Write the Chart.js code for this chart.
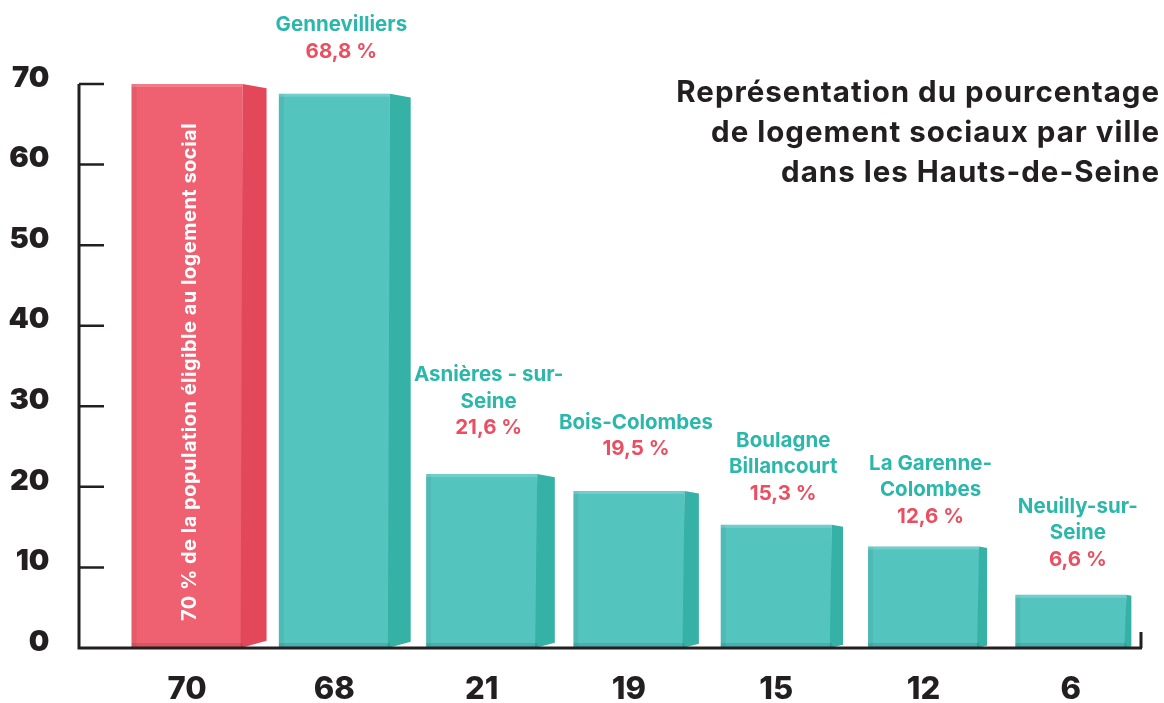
<!DOCTYPE html>
<html><head><meta charset="utf-8">
<script src="https://cdn.jsdelivr.net/npm/chart.js@4.4.1/dist/chart.umd.min.js"></script>
<style>html,body{margin:0;padding:0;background:#fff;} #wrap{position:relative;width:1164px;height:703px;}</style>
</head><body><div id="wrap"><canvas id="c" width="1164" height="703"></canvas></div>
<script>
// ---- data ----
const categories = ['70', '68', '21', '19', '15', '12', '6'];
const values = [70, 68.8, 21.6, 19.5, 15.3, 12.6, 6.6];
const cityNames = [[], ['Gennevilliers'], ['Asnières - sur-', 'Seine'], ['Bois-Colombes'], ['Boulagne', 'Billancourt'], ['La Garenne-', 'Colombes'], ['Neuilly-sur-', 'Seine']];
const percentLabels = ['', '68,8 %', '21,6 %', '19,5 %', '15,3 %', '12,6 %', '6,6 %'];
const yTicks = [0, 10, 20, 30, 40, 50, 60, 70];
const titleLines = ['Représentation du pourcentage', 'de logement sociaux par ville', 'dans les Hauts-de-Seine'];
const redBarText = '70 % de la population éligible au logement social';

// ---- styles ----
const RED = '#ef6170', RED_SIDE = '#e2485a';
const TEAL = '#54c4bf', TEAL_SIDE = '#35b1a6';
const TEXT_TEAL = '#2bb8ab', TEXT_RED = '#ea4f61', INK = '#231f20';
const labelGap = [0, 42, 46, 42, 31, 30, 35];
const FONT = 'Inter, "Open Sans", sans-serif';

const deco = {
  id: 'deco',
  afterDatasetsDraw(chart) {
    const ctx = chart.ctx;
    const meta = chart.getDatasetMeta(0);
    const ys = chart.scales.y;
    const y0 = ys.getPixelForValue(0), yTop = ys.getPixelForValue(70);
    const axisX = chart.chartArea.left - 34.4;
    ctx.save();
    // 3D side faces + bevels
    meta.data.forEach((el, i) => {
      const xr = el.x + el.width / 2, xl = el.x - el.width / 2;
      const s = Math.max(5, 24 - 3.2 * i);
      ctx.fillStyle = i === 0 ? RED_SIDE : TEAL_SIDE;
      ctx.beginPath();
      ctx.moveTo(xr, el.y);
      ctx.lineTo(xr + s, el.y + s * 0.18);
      ctx.lineTo(xr + s, el.base - s * 0.3);
      ctx.lineTo(xr - 2, el.base);
      ctx.closePath();
      ctx.fill();
      ctx.fillStyle = 'rgba(0,0,0,0.05)';
      ctx.fillRect(xl, el.y, 5, el.base - el.y);
      ctx.fillStyle = 'rgba(255,255,255,0.18)';
      ctx.fillRect(xl, el.y, el.width, 3);
      ctx.fillStyle = 'rgba(0,0,0,0.10)';
      ctx.fillRect(xl, el.base - 5, el.width, 5);
    });
    // axes
    ctx.strokeStyle = INK;
    ctx.lineWidth = 3;
    ctx.beginPath();
    ctx.moveTo(axisX, yTop); ctx.lineTo(axisX, y0 + 1.5);
    ctx.moveTo(axisX - 1.5, y0); ctx.lineTo(1142, y0);
    ctx.moveTo(1141, y0); ctx.lineTo(1141, y0 - 16);
    ctx.stroke();
    ctx.lineWidth = 2.5;
    ctx.beginPath();
    yTicks.forEach(v => { if (v > 0) { const p = ys.getPixelForValue(v); ctx.moveTo(axisX, p); ctx.lineTo(axisX + 25, p); } });
    ctx.stroke();
    // labels above bars
    ctx.textAlign = 'center';
    ctx.textBaseline = 'middle';
    ctx.font = '700 20.5px ' + FONT;
    meta.data.forEach((el, i) => {
      if (i === 0) return;
      const lines = cityNames[i].concat([percentLabels[i]]);
      const n = lines.length;
      const yLast = el.y - labelGap[i];
      lines.forEach((t, k) => {
        ctx.fillStyle = k < n - 1 ? TEXT_TEAL : TEXT_RED;
        ctx.fillText(t, el.x + 7, yLast - (n - 1 - k) * 26.5);
      });
    });
    // rotated text in red bar
    const r = meta.data[0];
    ctx.save();
    ctx.translate(r.x + 3, (r.y + r.base) / 2 + 6);
    ctx.rotate(-Math.PI / 2);
    ctx.fillStyle = '#ffffff';
    ctx.font = '700 20px ' + FONT;
    ctx.letterSpacing = '0.5px';
    ctx.fillText(redBarText, 0, 0);
    ctx.restore();
    // title
    ctx.textAlign = 'right';
    ctx.fillStyle = INK;
    ctx.font = '700 29.5px ' + FONT;
    ctx.letterSpacing = '1px';
    titleLines.forEach((t, k) => ctx.fillText(t, 1160, 93 + k * 40));
    ctx.letterSpacing = '0px';
    ctx.restore();
  }
};

new Chart(document.getElementById('c'), {
  type: 'bar',
  data: {
    labels: categories,
    datasets: [{
      data: values,
      backgroundColor: values.map((v, i) => i === 0 ? RED : TEAL),
      borderWidth: 0,
      categoryPercentage: 1,
      barPercentage: 0.754
    }]
  },
  options: {
    responsive: false,
    animation: false,
    events: [],
    layout: { padding: { top: 84, right: 19.5, bottom: 0, left: 0 } },
    plugins: { legend: { display: false }, tooltip: { enabled: false } },
    scales: {
      x: {
        grid: { display: false, drawTicks: false },
        border: { display: false },
        ticks: { color: INK, font: { family: FONT, size: 31, weight: '800' }, padding: 23, maxRotation: 0, autoSkip: false },
        afterFit(s) { s.height = 55; }
      },
      y: {
        min: 0, max: 70,
        afterBuildTicks(s) { s.ticks = yTicks.map(v => ({ value: v })); },
        grid: { display: false, drawTicks: false },
        border: { display: false },
        ticks: { color: INK, font: { family: FONT, size: 29, weight: '900' }, padding: 64, labelOffset: -6 },
        afterFit(s) { s.width = 113.4; s.paddingTop = 0; s.paddingBottom = 0; }
      }
    }
  },
  plugins: [deco]
});
</script>
</body></html>
